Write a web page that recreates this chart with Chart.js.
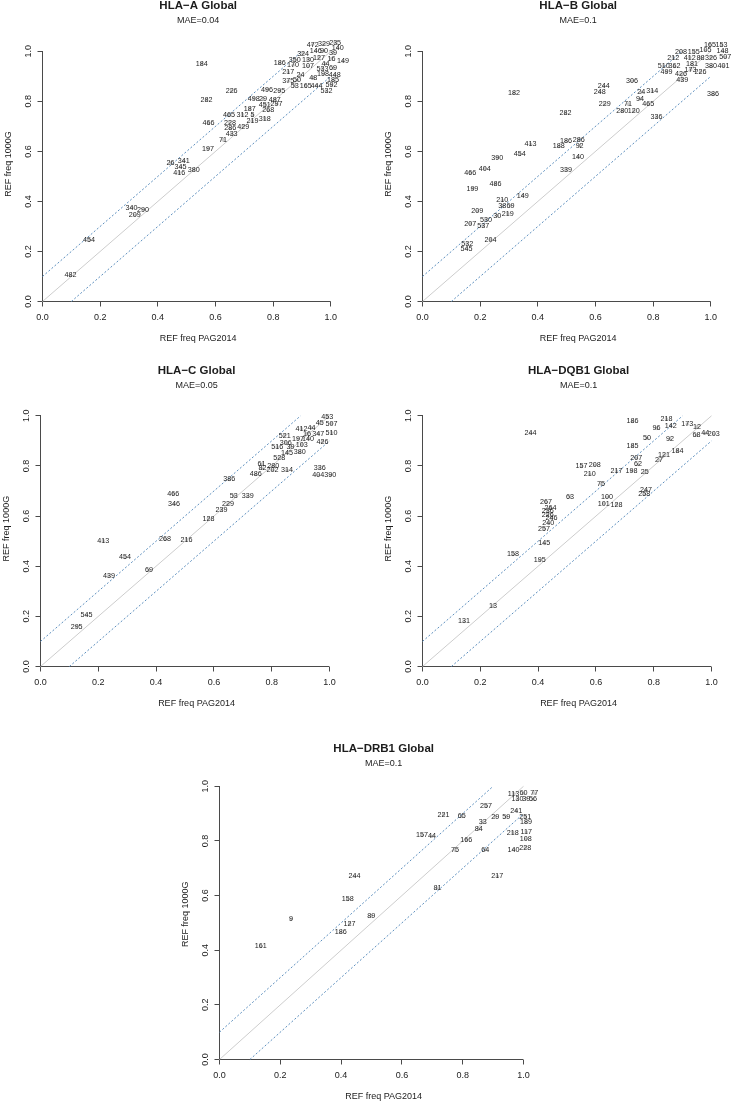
<!DOCTYPE html>
<html>
<head>
<meta charset="utf-8">
<script src="https://cdn.jsdelivr.net/npm/chart.js@4.4.0/dist/chart.umd.min.js"></script>
<style>
  body { margin: 0; background: #fff; }
  #page { position: relative; width: 735px; height: 1103px; overflow: hidden; background: #fff; }
  #page canvas { position: absolute; }
</style>
</head>
<body>
<div id="page"></div>
<script>
// ---- data: label, x = REF freq PAG2014, y = REF freq 1000G ----
const hlaA_labels = [472,329,235,140,324,146,90,39,350,130, 127,16,149,186,170,107,44,533,69,217,
  198,448,24,48,375,50,185,53,165,444, 592,532,226,496,295,282,498,29,487,451,
  297,187,268,465,312,5,219,318,466,228, 286,429,433,71,197,26,341,345,416,380,
  340,290,209,454,482,184];
const hlaA_x = [0.937,0.976,1.015,1.024,0.904,0.948,0.976,1.008,0.875,0.921, 0.959,1.002,1.042,0.823,0.869,0.921,0.982,0.971,1.008,0.852,
  0.973,1.014,0.895,0.939,0.852,0.883,1.008,0.875,0.913,0.950, 1.002,0.985,0.656,0.779,0.821,0.569,0.733,0.765,0.806,0.771,
  0.812,0.719,0.783,0.647,0.694,0.728,0.728,0.771,0.576,0.650, 0.651,0.696,0.656,0.626,0.574,0.444,0.490,0.479,0.474,0.525,
  0.309,0.349,0.320,0.161,0.097,0.552];
const hlaA_y = [1.027,1.028,1.035,1.013,0.991,1.001,1.001,0.993,0.967,0.967, 0.975,0.971,0.960,0.953,0.944,0.940,0.951,0.931,0.933,0.917,
  0.908,0.905,0.904,0.895,0.880,0.884,0.884,0.863,0.863,0.863, 0.865,0.841,0.841,0.847,0.841,0.807,0.811,0.809,0.807,0.787,
  0.788,0.771,0.764,0.744,0.747,0.744,0.721,0.731,0.712,0.713, 0.692,0.699,0.669,0.646,0.611,0.553,0.561,0.537,0.515,0.527,
  0.375,0.367,0.345,0.247,0.104,0.951];

const hlaB_labels = [165,153,208,155,105,148,212,412,88,326, 507,510,362,181,380,401,499,173,426,226,
  439,306,244,248,24,314,94,386,229,71, 465,280,120,336,182,282,413,186,286,188,
  92,454,390,140,404,466,339,486,199,149, 210,38,69,209,30,219,530,207,537,204,
  532,545];
const hlaB_x = [0.997,1.037,0.897,0.941,0.982,1.041,0.870,0.927,0.964,1.001, 1.050,0.837,0.874,0.935,1.001,1.044,0.846,0.930,0.897,0.964,
  0.901,0.727,0.629,0.615,0.759,0.797,0.754,1.008,0.632,0.713, 0.783,0.693,0.733,0.812,0.317,0.496,0.375,0.498,0.542,0.473,
  0.545,0.337,0.259,0.539,0.216,0.166,0.498,0.253,0.173,0.348, 0.277,0.277,0.305,0.190,0.259,0.296,0.220,0.166,0.211,0.236,
  0.155,0.153];
const hlaB_y = [1.027,1.024,0.997,0.997,1.004,1.000,0.975,0.975,0.975,0.975, 0.976,0.940,0.940,0.948,0.940,0.940,0.917,0.927,0.908,0.917,
  0.887,0.881,0.860,0.837,0.836,0.841,0.809,0.828,0.788,0.788, 0.788,0.761,0.761,0.737,0.833,0.753,0.628,0.641,0.647,0.620,
  0.623,0.588,0.575,0.577,0.531,0.515,0.527,0.471,0.451,0.423, 0.404,0.383,0.383,0.361,0.343,0.351,0.327,0.311,0.303,0.247,
  0.231,0.211];

const hlaC_labels = [453,45,507,412,44,16,347,510,521,197, 140,426,306,516,39,103,145,380,528,61,
  280,82,202,314,486,336,404,390,386,53, 339,466,346,229,239,128,413,268,216,454,
  69,439,545,295];
const hlaC_x = [0.992,0.966,1.007,0.903,0.938,0.922,0.961,1.007,0.845,0.891, 0.926,0.976,0.849,0.819,0.865,0.904,0.853,0.897,0.826,0.765,
  0.805,0.768,0.803,0.853,0.745,0.966,0.961,1.003,0.653,0.669, 0.717,0.459,0.462,0.649,0.626,0.581,0.217,0.431,0.505,0.292,
  0.375,0.237,0.159,0.125];
const hlaC_y = [0.994,0.971,0.969,0.948,0.952,0.929,0.929,0.932,0.921,0.908, 0.908,0.897,0.892,0.875,0.875,0.885,0.852,0.855,0.832,0.808,
  0.799,0.790,0.783,0.783,0.766,0.792,0.762,0.762,0.746,0.681, 0.679,0.689,0.647,0.647,0.624,0.590,0.501,0.508,0.505,0.435,
  0.384,0.361,0.204,0.159];

const hlaDQB1_labels = [186,218,96,142,173,12,50,92,68,44, 203,244,185,184,207,121,27,157,208,62,
  210,217,198,25,75,247,258,63,100,101, 128,267,264,236,226,246,240,257,145,158,
  195,13,131];
const hlaDQB1_x = [0.727,0.844,0.810,0.859,0.916,0.950,0.777,0.856,0.948,0.978, 1.008,0.374,0.727,0.882,0.740,0.836,0.818,0.550,0.596,0.746,
  0.579,0.671,0.723,0.769,0.618,0.773,0.767,0.510,0.638,0.627, 0.671,0.427,0.443,0.433,0.433,0.446,0.435,0.420,0.421,0.313,
  0.406,0.244,0.144];
const hlaDQB1_y = [0.978,0.987,0.950,0.960,0.967,0.956,0.911,0.907,0.923,0.930, 0.927,0.930,0.880,0.860,0.831,0.843,0.824,0.798,0.803,0.806,
  0.767,0.780,0.780,0.774,0.728,0.703,0.687,0.678,0.675,0.650, 0.646,0.656,0.634,0.620,0.606,0.591,0.571,0.550,0.491,0.447,
  0.423,0.243,0.180];

const hlaDRB1_labels = [113,60,77,130,39,56,257,241,29,59, 221,65,251,189,33,84,157,44,218,117,
  166,108,75,64,140,228,244,81,217,158, 9,89,127,186,161];
const hlaDRB1_x = [0.967,1.000,1.035,0.980,1.009,1.031,0.877,0.976,0.907,0.943, 0.737,0.797,1.006,1.008,0.866,0.853,0.666,0.699,0.965,1.009,
  0.812,1.007,0.775,0.874,0.967,1.006,0.444,0.717,0.914,0.422, 0.235,0.499,0.428,0.399,0.136];
const hlaDRB1_y = [0.973,0.975,0.975,0.953,0.955,0.952,0.927,0.910,0.888,0.888, 0.896,0.890,0.888,0.869,0.868,0.844,0.821,0.817,0.830,0.833,
  0.805,0.807,0.766,0.768,0.768,0.775,0.671,0.627,0.671,0.586, 0.513,0.525,0.497,0.466,0.414];

const axisTicks = [0, 0.2, 0.4, 0.6, 0.8, 1.0];
const xAxisLine = [[0, 0], [1, 0]];
const yAxisLine = [[0, 0], [0, 1]];
const diagLine = [[0, 0], [1, 1]];          // y = x
const upperLine = [[0, 0.1], [0.9, 1]];     // y = x + 0.1
const lowerLine = [[0.1, 0], [1, 0.9]];     // y = x - 0.1

// ---- layout ----
const FONT = "'Liberation Sans', Arial, Helvetica, sans-serif";
const TEXT_COL = '#1c1c1c';
const AXIS_COL = '#4a4a4a';
const DASH_COL = '#5d8fbe';
const X_MAX = 1.08;                          // plot region runs a bit past 1.0, like R's
const Y_AXIS_W = 42.5, X_AXIS_H = 44.5, TOP_H = 29.1;

// x0/y0 = pixel of the origin, sx/sy = pixels per unit
const panels = [
  { title: 'HLA\u2212A Global', mae: 'MAE=0.04', labels: hlaA_labels, xs: hlaA_x, ys: hlaA_y,
    x0: 42.5, y0: 301.5, sx: 288.3, sy: 250, yMax: 1.1 },
  { title: 'HLA\u2212B Global', mae: 'MAE=0.1', labels: hlaB_labels, xs: hlaB_x, ys: hlaB_y,
    x0: 422.5, y0: 301.5, sx: 288.3, sy: 250, yMax: 1.1 },
  { title: 'HLA\u2212C Global', mae: 'MAE=0.05', labels: hlaC_labels, xs: hlaC_x, ys: hlaC_y,
    x0: 40.5, y0: 666.5, sx: 289, sy: 250.5, yMax: 1.1 },
  { title: 'HLA\u2212DQB1 Global', mae: 'MAE=0.1', labels: hlaDQB1_labels, xs: hlaDQB1_x, ys: hlaDQB1_y,
    x0: 422.5, y0: 666.5, sx: 289, sy: 250.5, yMax: 1.1 },
  { title: 'HLA\u2212DRB1 Global', mae: 'MAE=0.1', labels: hlaDRB1_labels, xs: hlaDRB1_x, ys: hlaDRB1_y,
    x0: 219.5, y0: 1059.5, sx: 304, sy: 273, yMax: 1.063 }
];

// disegna le etichette dei punti e le etichette ruotate dell'asse y
const labelPlugin = {
  id: 'labelPlugin',
  afterDatasetsDraw(chart) {
    const ctx = chart.ctx;
    const xs = chart.scales.x, ys = chart.scales.y;
    ctx.save();
    ctx.fillStyle = TEXT_COL;
    ctx.font = `7.2px ${FONT}`;
    ctx.textAlign = 'center';
    ctx.textBaseline = 'middle';
    chart.data.datasets.forEach(ds => {
      if (!ds.pointLabels) return;
      ds.data.forEach((p, i) => {
        ctx.fillText(String(ds.pointLabels[i]), xs.getPixelForValue(p.x), ys.getPixelForValue(p.y));
      });
    });
    // y tick labels, rotated like R
    ctx.font = `9px ${FONT}`;
    ys.ticks.forEach(t => {
      const py = ys.getPixelForValue(t.value);
      ctx.save();
      ctx.translate(ys.right - 14, py);
      ctx.rotate(-Math.PI / 2);
      ctx.fillText(t.value.toFixed(1), 0, 0);
      ctx.restore();
    });
    ctx.restore();
  }
};

function toPoints(a) { return a.map(([x, y]) => ({ x, y })); }

function makePanel(p) {
  const plotW = p.sx * X_MAX, plotH = p.sy * p.yMax;
  const plotTop = p.y0 - plotH;
  const left = Math.round(p.x0 - Y_AXIS_W);
  const top = Math.floor(plotTop - TOP_H);
  const padTop = plotTop - TOP_H - top;
  const w = Math.ceil(Y_AXIS_W + plotW + 12);
  const padRight = w - Y_AXIS_W - plotW;
  const h = Math.round(p.y0 - top + X_AXIS_H);

  const canvas = document.createElement('canvas');
  canvas.width = w; canvas.height = h;
  canvas.style.width = w + 'px'; canvas.style.height = h + 'px';
  canvas.style.left = left + 'px';
  canvas.style.top = top + 'px';
  document.getElementById('page').appendChild(canvas);

  const points = p.xs.map((x, i) => ({ x, y: p.ys[i] }));
  const lineDs = (data, color, dash) => ({
    type: 'line', data: toPoints(data), borderColor: color, borderWidth: 1,
    borderDash: dash, pointRadius: 0, fill: false, tension: 0, clip: false
  });

  new Chart(canvas, {
    type: 'scatter',
    data: {
      datasets: [
        lineDs(diagLine, '#cdcdcd', []),
        lineDs(upperLine, DASH_COL, [2, 2]),
        lineDs(lowerLine, DASH_COL, [2, 2]),
        { data: points, pointLabels: p.labels, pointRadius: 1.8, pointBorderWidth: 0,
          pointBackgroundColor: '#cdcdcd', clip: false },
        lineDs(xAxisLine, AXIS_COL, []),
        lineDs(yAxisLine, AXIS_COL, [])
      ]
    },
    options: {
      responsive: false,
      animation: false,
      devicePixelRatio: 1,
      layout: { padding: { left: 0, right: padRight, top: padTop, bottom: 0 } },
      plugins: {
        legend: { display: false },
        tooltip: { enabled: false },
        title: {
          display: true, text: p.title, fullSize: false, color: TEXT_COL,
          font: { family: FONT, size: 11.5, weight: 'bold' }, padding: { top: 2, bottom: 0 }
        },
        subtitle: {
          display: true, text: p.mae, fullSize: false, color: TEXT_COL,
          font: { family: FONT, size: 9 }, padding: { top: 2.3, bottom: 0 }
        }
      },
      scales: {
        x: {
          type: 'linear', min: 0, max: X_MAX,
          afterBuildTicks: s => { s.ticks = axisTicks.map(v => ({ value: v })); },
          ticks: { callback: v => v.toFixed(1), color: TEXT_COL, font: { family: FONT, size: 9 },
                   padding: 5.5, maxRotation: 0, autoSkip: false },
          grid: { drawOnChartArea: false, drawTicks: true, tickLength: 5, color: AXIS_COL, lineWidth: 1 },
          border: { display: false },
          title: { display: true, text: 'REF freq PAG2014', color: TEXT_COL,
                   font: { family: FONT, size: 9 }, padding: { top: 0, bottom: 2.1 } },
          afterFit: s => { s.height = X_AXIS_H; }
        },
        y: {
          type: 'linear', min: 0, max: p.yMax,
          afterBuildTicks: s => { s.ticks = axisTicks.map(v => ({ value: v })); },
          ticks: { display: false },
          grid: { drawOnChartArea: false, drawTicks: true, tickLength: 5, color: AXIS_COL, lineWidth: 1 },
          border: { display: false },
          title: { display: true, text: 'REF freq 1000G', color: TEXT_COL,
                   font: { family: FONT, size: 9 }, padding: { top: 3.1, bottom: 0 } },
          afterFit: s => { s.width = Y_AXIS_W; }
        }
      }
    },
    plugins: [labelPlugin]
  });
}

panels.forEach(makePanel);
</script>
</body>
</html>
